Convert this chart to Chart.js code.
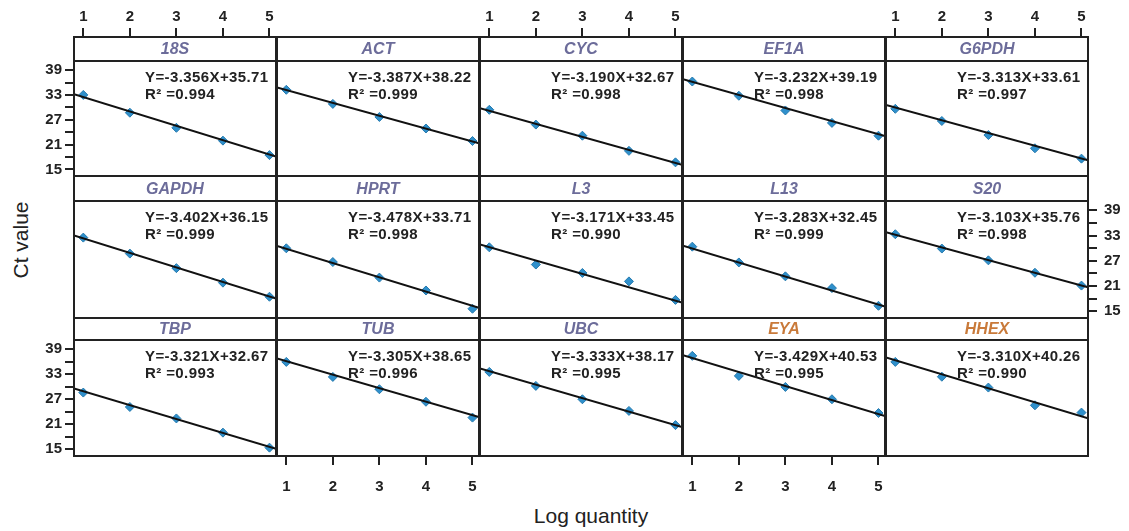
<!DOCTYPE html>
<html>
<head>
<meta charset="utf-8">
<script src="https://cdn.jsdelivr.net/npm/chart.js@4.4.0/dist/chart.umd.min.js"></script>
<style>
  body { margin: 0; background: #fff; }
  #wrap { position: relative; width: 1129px; height: 531px; overflow: hidden; font-family: 'Liberation Sans', Arial, sans-serif; }
  #wrap canvas { position: absolute; }
  .axis-title { position: absolute; font-size: 21px; line-height: 24px; color: #222; text-align: center; white-space: nowrap; }
  #ylab { left: -39px; top: 228px; width: 120px; transform: rotate(-90deg); }
  #xlab { left: 491px; top: 504px; width: 200px; }
</style>
</head>
<body>
<div id="wrap">
  <div class="axis-title" id="ylab">Ct value</div>
  <div class="axis-title" id="xlab">Log quantity</div>
</div>
<script>
// ---------------- data ----------------
const genes       = ['18S', 'ACT', 'CYC', 'EF1A', 'G6PDH', 'GAPDH', 'HPRT', 'L3', 'L13', 'S20', 'TBP', 'TUB', 'UBC', 'EYA', 'HHEX'];
const targetGenes = ['EYA', 'HHEX'];
const equations   = ['Y=-3.356X+35.71', 'Y=-3.387X+38.22', 'Y=-3.190X+32.67', 'Y=-3.232X+39.19', 'Y=-3.313X+33.61',
                     'Y=-3.402X+36.15', 'Y=-3.478X+33.71', 'Y=-3.171X+33.45', 'Y=-3.283X+32.45', 'Y=-3.103X+35.76',
                     'Y=-3.321X+32.67', 'Y=-3.305X+38.65', 'Y=-3.333X+38.17', 'Y=-3.429X+40.53', 'Y=-3.310X+40.26'];
const rSquared    = ['0.994', '0.999', '0.998', '0.998', '0.997',
                     '0.999', '0.998', '0.990', '0.999', '0.998',
                     '0.993', '0.996', '0.995', '0.995', '0.990'];

const logQuantity = [1, 2, 3, 4, 5];
const ctValues = [
  [33.0, 28.7, 25.05, 21.95, 18.45],   // 18S
  [34.24, 30.83, 27.67, 24.88, 21.86], // ACT
  [29.4, 25.83, 23.14, 19.48, 16.7],   // CYC
  [36.24, 32.8, 29.24, 26.24, 23.14],  // EF1A
  [29.64, 26.7, 23.3, 20.1, 17.6],     // G6PDH
  [32.5, 28.7, 25.25, 21.8, 18.45],    // GAPDH
  [29.96, 26.7, 23.0, 19.94, 15.6],    // HPRT
  [30.2, 26.1, 24.1, 22.1, 17.7],      // L3
  [30.35, 26.6, 23.3, 20.5, 16.3],     // L13
  [33.3, 29.9, 27.1, 24.15, 21.1],     // S20
  [28.6, 25.15, 22.4, 19.0, 15.4],     // TBP
  [35.95, 32.35, 29.4, 26.4, 22.6],    // TUB
  [33.55, 30.2, 27.0, 24.2, 20.8],     // UBC
  [37.4, 32.6, 29.95, 27.0, 23.7],     // EYA
  [35.95, 32.4, 29.8, 25.55, 23.8]     // HHEX
];
// fitted line, value at the left and right edge of each panel
const fitStart = [33.2, 34.8, 29.8, 36.8, 30.6, 33.0, 30.5, 30.9, 30.6, 33.8, 29.6, 36.75, 34.4, 37.55, 37.0];
const fitEnd   = [18.1, 21.3, 16.1, 23.05, 17.2, 18.0, 15.8, 17.1, 16.1, 20.7, 15.15, 22.75, 20.35, 23.0, 22.45];

const xRange     = [0.8, 5.14];
const yRange     = [13.4, 41.2];
const yTicks     = [15, 18, 21, 24, 27, 30, 33, 36, 39];
const yTickLabels = [15, 21, 27, 33, 39];

// ---------------- layout ----------------
const colX   = [74, 277, 480, 683, 886];
const colW   = 202;
const rowTop = [37, 176, 318];
const stripH = [24, 25, 22];
const plotH  = [115, 117, 116];
const PAD = 3, TOP_AX = 30, BOT_AX = 40, LEFT_AX = 36, RIGHT_AX = 40;

const INK = '#222';
const TITLE_COLOR  = '#6c6c9a';
const TARGET_COLOR = '#c97a3a';
const tickFont = { family: "'Liberation Sans', Arial, sans-serif", size: 15, weight: 'bold' };

const panelFrame = {
  id: 'panelFrame',
  afterDraw(chart, args, opts) {
    const { ctx, chartArea: ca } = chart;
    const top = ca.top - opts.stripH;
    ctx.save();
    ctx.strokeStyle = INK;
    ctx.lineWidth = 2;
    ctx.strokeRect(ca.left, top, ca.right - ca.left, ca.bottom - top);
    ctx.beginPath();
    ctx.moveTo(ca.left, ca.top);
    ctx.lineTo(ca.right, ca.top);
    ctx.stroke();

    ctx.textAlign = 'center';
    ctx.textBaseline = 'middle';
    ctx.fillStyle = opts.color;
    ctx.font = "italic bold 16px 'Liberation Sans', Arial, sans-serif";
    ctx.fillText(opts.title, (ca.left + ca.right) / 2, top + opts.stripH / 2 + 1);

    ctx.textAlign = 'left';
    ctx.fillStyle = INK;
    ctx.font = "bold 15px 'Liberation Sans', Arial, sans-serif";
    ctx.letterSpacing = '0.4px';
    ctx.fillText(opts.eq, ca.left + 71, ca.top + 17);
    ctx.fillText('R\u00B2 =' + opts.r2, ca.left + 71, ca.top + 34);
    ctx.restore();
  }
};

// no automatic label padding: every panel keeps the plot box we give it
function noPadding(s) {
  s.paddingTop = s.paddingBottom = s.paddingLeft = s.paddingRight = 0;
}

function xAxis(position, show, size, padding, weight) {
  return {
    type: 'linear', position, weight, display: show,
    min: xRange[0], max: xRange[1],
    afterBuildTicks: s => { s.ticks = logQuantity.map(v => ({ value: v })); },
    afterFit: s => { noPadding(s); if (show) s.height = size; },
    grid: { drawOnChartArea: false, tickLength: 9, color: INK, lineWidth: 2 },
    border: { display: false },
    ticks: { color: INK, font: tickFont, padding, autoSkip: false, maxRotation: 0 }
  };
}

function yAxis(position, show, size, padding) {
  return {
    type: 'linear', position, display: show,
    min: yRange[0], max: yRange[1],
    afterBuildTicks: s => { s.ticks = yTicks.map(v => ({ value: v })); },
    afterFit: s => { noPadding(s); if (show) s.width = size; },
    grid: { drawOnChartArea: false, tickLength: 9, color: INK, lineWidth: 2 },
    border: { display: false },
    ticks: {
      color: INK, font: tickFont, padding, autoSkip: false,
      callback: v => yTickLabels.includes(v) ? String(v) : ''
    }
  };
}

const wrap = document.getElementById('wrap');

genes.forEach((gene, i) => {
  const r = Math.floor(i / 5), c = i % 5;
  const hasTop    = r === 0 && c % 2 === 0;
  const hasBottom = r === 2 && c % 2 === 1;
  const hasLeft   = c === 0 && r !== 1;
  const hasRight  = c === 4 && r === 1;

  const w = PAD * 2 + colW + (hasLeft ? LEFT_AX : 0) + (hasRight ? RIGHT_AX : 0);
  const h = PAD * 2 + stripH[r] + plotH[r] + (hasTop ? TOP_AX : 0) + (hasBottom ? BOT_AX : 0);
  const canvas = document.createElement('canvas');
  canvas.width = w;
  canvas.height = h;
  canvas.style.width = w + 'px';
  canvas.style.height = h + 'px';
  canvas.style.left = (colX[c] - PAD - (hasLeft ? LEFT_AX : 0)) + 'px';
  canvas.style.top  = (rowTop[r] - PAD - (hasTop ? TOP_AX : 0)) + 'px';
  wrap.appendChild(canvas);

  new Chart(canvas, {
    type: 'scatter',
    data: {
      datasets: [
        {
          label: 'fit',
          data: [{ x: xRange[0], y: fitStart[i] }, { x: xRange[1], y: fitEnd[i] }],
          showLine: true, borderColor: '#111', borderWidth: 2, pointRadius: 0, order: 0
        },
        {
          label: gene,
          data: logQuantity.map((x, k) => ({ x, y: ctValues[i][k] })),
          pointStyle: 'rectRot', pointRadius: 4.5,
          backgroundColor: '#2f90cc', borderColor: '#2579ad', borderWidth: 1, order: 1
        }
      ]
    },
    options: {
      responsive: false,
      animation: false,
      devicePixelRatio: 1,
      layout: { padding: PAD, autoPadding: false },
      plugins: {
        legend: { display: false },
        tooltip: { enabled: false },
        panelFrame: {
          title: gene,
          color: targetGenes.includes(gene) ? TARGET_COLOR : TITLE_COLOR,
          eq: equations[i],
          r2: rSquared[i],
          stripH: stripH[r]
        }
      },
      scales: {
        x:  xAxis('bottom', hasBottom, BOT_AX, 13, 0),
        xs: {
          type: 'linear', position: 'top', weight: 0, display: true,
          afterFit: s => { noPadding(s); s.height = stripH[r]; },
          grid: { display: false }, border: { display: false }, ticks: { display: false }
        },
        xt: xAxis('top', hasTop, TOP_AX, 2, 1),
        y:  yAxis('left', hasLeft, LEFT_AX, 3),
        yr: yAxis('right', hasRight, RIGHT_AX, 7)
      }
    },
    plugins: [panelFrame]
  });
});
</script>
</body>
</html>
